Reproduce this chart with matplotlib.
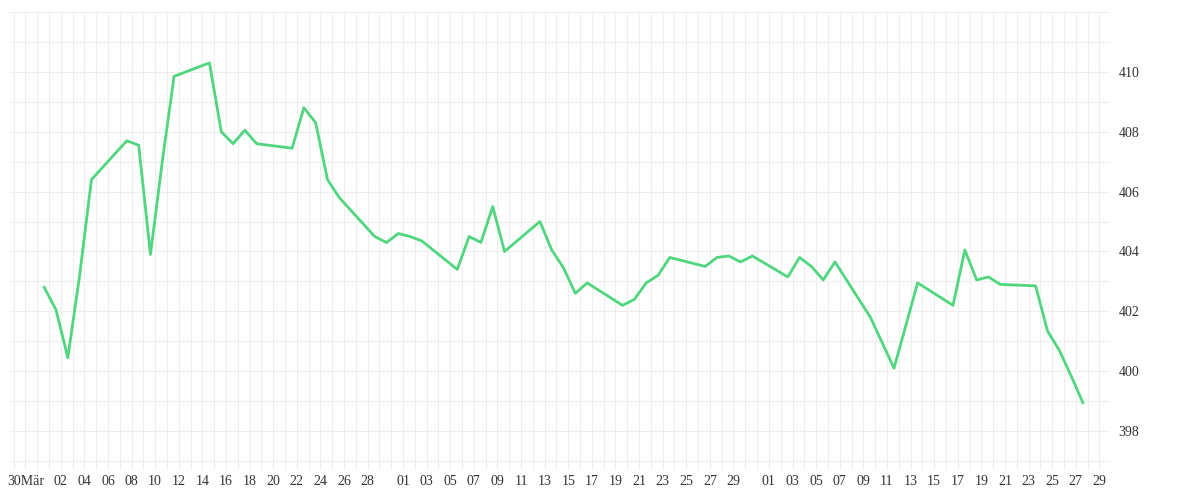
import numpy as np
import matplotlib
matplotlib.use('Agg')
import matplotlib.pyplot as plt
from matplotlib.ticker import MultipleLocator, FixedLocator

# Tage seit 30. März (Handelstage) und Kurswerte
tage = [0, 1, 2, 3, 4, 7, 8, 9, 10, 11, 14, 15, 16, 17, 18, 21, 22, 23, 24, 25,
        28, 29, 30, 31, 32, 35, 36, 37, 38, 39, 42, 43, 44, 45, 46, 49, 50, 51, 52, 53,
        56, 57, 58, 59, 60, 63, 64, 65, 66, 67, 70, 72, 74, 77, 78, 79, 80, 81,
        84, 85, 86, 87, 88]
kurs = [402.8, 402.05, 400.45, 403.2, 406.4, 407.7, 407.55, 403.9, 407.0, 409.85,
        410.3, 408.0, 407.6, 408.05, 407.6, 407.45, 408.8, 408.3, 406.4, 405.8,
        404.5, 404.3, 404.6, 404.5, 404.35, 403.4, 404.5, 404.3, 405.5, 404.0,
        405.0, 404.05, 403.45, 402.6, 402.95, 402.2, 402.4, 402.95, 403.2, 403.8,
        403.5, 403.8, 403.85, 403.65, 403.85, 403.15, 403.8, 403.5, 403.05, 403.65,
        401.8, 400.1, 402.95, 402.2, 404.05, 403.05, 403.15, 402.9,
        402.85, 401.35, 400.7, 399.85, 398.95]

# Achsenbeschriftung: Tag-Offset und Text
tick_tage = [0] + list(range(3, 30, 2)) + list(range(32, 61, 2)) + list(range(63, 92, 2))
tick_text = ['30Mär'] + ['%02d' % d for d in range(2, 29, 2)] \
    + ['%02d' % d for d in range(1, 30, 2)] + ['%02d' % d for d in range(1, 30, 2)]
y_ticks = [398, 400, 402, 404, 406, 408, 410]

versatz = 1.6

fig = plt.figure(figsize=(12, 5), dpi=100)
ax = fig.add_axes([10 / 1200, 30 / 500, 1100 / 1200, 458 / 500])

ax.plot(tage, kurs, color='#4fd67e', linewidth=2)

ax.set_xlim(-2.9, 90.3)
ax.set_ylim(396.7, 412.0)
ax.xaxis.set_minor_locator(FixedLocator(np.arange(-2, 91) - versatz))
ax.set_yticks(y_ticks)
ax.yaxis.set_minor_locator(MultipleLocator(1))
ax.set_xticks([t - versatz for t in tick_tage])
ax.set_xticklabels(tick_text)
ax.grid(True, which='both', color='#eeeeee', linewidth=0.8)
ax.set_axisbelow(True)
ax.yaxis.tick_right()
for s in ax.spines.values():
    s.set_visible(False)
ax.tick_params(which='both', length=0, labelsize=10, colors='#333333')
for lab in ax.get_xticklabels() + ax.get_yticklabels():
    lab.set_family('Liberation Serif')
ax.tick_params(axis='y', pad=6)

fig.savefig('out.png')
